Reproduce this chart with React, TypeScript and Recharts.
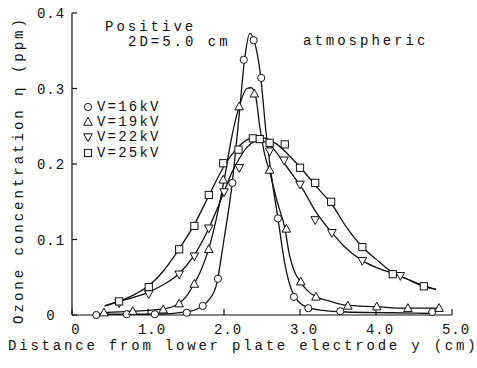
import { ComposedChart, Line, Scatter, XAxis, YAxis, Customized } from 'recharts'

const X_TICKS = [0, 1, 2, 3, 4, 5]
const Y_TICKS = [0, 0.1, 0.2, 0.3, 0.4]
const VOLTAGES = ['V=16kV', 'V=19kV', 'V=22kV', 'V=25kV']

// measured points [distance y (cm), ozone (ppm)]
const PTS_16: [number, number][] = [
  [0.32, 0.0], [0.72, 0.001], [1.09, 0.001], [1.51, 0.003], [1.72, 0.012], [1.92, 0.048],
  [2.11, 0.175], [2.26, 0.338], [2.39, 0.364], [2.49, 0.314], [2.71, 0.128], [2.92, 0.024],
  [3.11, 0.009], [3.53, 0.005], [4.74, 0.004],
]
const PTS_19: [number, number][] = [
  [0.42, 0.003], [0.8, 0.005], [1.2, 0.007], [1.41, 0.015], [1.61, 0.041], [1.8, 0.087],
  [1.99, 0.179], [2.2, 0.276], [2.4, 0.293], [2.6, 0.192], [2.82, 0.114], [3.01, 0.044],
  [3.21, 0.024], [3.63, 0.012], [4.01, 0.011], [4.42, 0.009], [4.83, 0.009],
]
const PTS_22: [number, number][] = [
  [0.62, 0.016], [1.01, 0.028], [1.41, 0.054], [1.61, 0.078], [1.8, 0.115], [2.0, 0.163],
  [2.2, 0.195], [2.6, 0.217], [2.79, 0.205], [3.0, 0.173], [3.2, 0.126], [3.42, 0.109],
  [3.82, 0.072], [4.32, 0.052],
]
const PTS_25: [number, number][] = [
  [0.62, 0.018], [1.01, 0.037], [1.41, 0.087], [1.61, 0.118], [1.8, 0.159], [1.99, 0.201],
  [2.19, 0.219], [2.38, 0.234], [2.47, 0.233], [2.6, 0.228], [2.8, 0.226], [3.0, 0.195],
  [3.2, 0.175], [3.41, 0.15], [3.82, 0.09], [4.22, 0.054], [4.63, 0.038],
]

// fitted curves
const CURVE_16: [number, number][] = [
  [0.3, 0.001], [0.7, 0.001], [1.1, 0.001], [1.5, 0.004], [1.7, 0.011], [1.8, 0.02],
  [1.9, 0.04], [2.0, 0.1], [2.1, 0.168], [2.2, 0.265], [2.27, 0.338], [2.34, 0.373],
  [2.4, 0.362], [2.48, 0.318], [2.55, 0.245], [2.63, 0.18], [2.71, 0.128], [2.8, 0.068],
  [2.9, 0.03], [3.0, 0.016], [3.1, 0.01], [3.3, 0.006], [3.6, 0.004], [4.2, 0.003], [4.75, 0.002],
]
const CURVE_19: [number, number][] = [
  [0.4, 0.003], [0.8, 0.005], [1.2, 0.008], [1.4, 0.015], [1.5, 0.024], [1.6, 0.04],
  [1.7, 0.06], [1.8, 0.088], [1.9, 0.128], [2.0, 0.178], [2.1, 0.235], [2.2, 0.276],
  [2.3, 0.3], [2.36, 0.301], [2.42, 0.288], [2.47, 0.25], [2.53, 0.215], [2.6, 0.19],
  [2.7, 0.15], [2.8, 0.115], [2.86, 0.08], [2.93, 0.057], [3.0, 0.045], [3.1, 0.032],
  [3.2, 0.025], [3.4, 0.018], [3.6, 0.013], [4.0, 0.011], [4.4, 0.009], [4.83, 0.009],
]
const CURVE_22: [number, number][] = [
  [0.43, 0.012], [0.62, 0.018], [0.8, 0.023], [1.0, 0.03], [1.2, 0.04], [1.4, 0.054],
  [1.6, 0.078], [1.8, 0.115], [1.9, 0.138], [2.0, 0.163], [2.1, 0.188], [2.2, 0.207],
  [2.3, 0.222], [2.4, 0.23], [2.48, 0.232], [2.56, 0.228], [2.65, 0.22], [2.8, 0.2],
  [2.9, 0.186], [3.04, 0.166], [3.2, 0.138], [3.42, 0.109], [3.6, 0.089], [3.82, 0.072],
  [4.0, 0.063], [4.22, 0.055], [4.4, 0.048], [4.6, 0.04], [4.79, 0.034],
]
const CURVE_25: [number, number][] = [
  [0.43, 0.012], [0.62, 0.018], [0.8, 0.026], [1.0, 0.038], [1.2, 0.058], [1.4, 0.086],
  [1.6, 0.118], [1.8, 0.158], [2.0, 0.197], [2.1, 0.212], [2.2, 0.224], [2.3, 0.232],
  [2.42, 0.236], [2.55, 0.234], [2.7, 0.226], [2.85, 0.212], [3.0, 0.196], [3.25, 0.166],
  [3.41, 0.148], [3.6, 0.118], [3.82, 0.09], [4.0, 0.074], [4.22, 0.056], [4.4, 0.048],
  [4.63, 0.038], [4.79, 0.034],
]

const FONT = '"Liberation Mono", "DejaVu Sans Mono", monospace'
const INK = '#111'

type Kind = 'circle' | 'up' | 'down' | 'square'
const KINDS: Kind[] = ['circle', 'up', 'down', 'square']

const rows = (pts: [number, number][]) => pts.map(([d, c]) => ({ d, c }))

function Marker({ kind, cx, cy }: { kind: Kind; cx: number; cy: number }) {
  const st = { fill: '#fff', stroke: INK, strokeWidth: 1 }
  if (kind === 'circle') return <circle cx={cx} cy={cy} r={3.6} {...st} />
  if (kind === 'square') return <rect x={cx - 3.6} y={cy - 3.6} width={7.2} height={7.2} {...st} />
  if (kind === 'up')
    return <polygon points={`${cx},${cy - 4.6} ${cx - 4.3},${cy + 3.2} ${cx + 4.3},${cy + 3.2}`} {...st} />
  return <polygon points={`${cx},${cy + 4.6} ${cx - 4.3},${cy - 3.2} ${cx + 4.3},${cy - 3.2}`} {...st} />
}

function YTick({ x, y, payload }: any) {
  const v = payload.value
  return (
    <text x={x} y={y} dy={5} textAnchor="middle" fontFamily={FONT} fontSize={14} letterSpacing={1} fill={INK}>
      {v === 0 ? '0' : v.toFixed(1)}
    </text>
  )
}

function XTick({ x, y, payload }: any) {
  const v = payload.value
  return (
    <text x={x + 4} y={y} dy={12} textAnchor="middle" fontFamily={FONT} fontSize={14} letterSpacing={1} fill={INK}>
      {v === 0 ? '0' : v.toFixed(1)}
    </text>
  )
}

function Annotations() {
  const t = { fontFamily: FONT, fontSize: 14, fill: INK }
  return (
    <g>
      <text x={105} y={31} letterSpacing={3} {...t}>Positive</text>
      <text x={128} y={46} letterSpacing={3} {...t}>2D=5.0 cm</text>
      <text x={303} y={45} letterSpacing={3} {...t}>atmospheric</text>
      {VOLTAGES.map((label, i) => {
        const base = [111, 126, 141, 157][i]
        return (
          <g key={label}>
            <Marker kind={KINDS[i]} cx={88} cy={base - 4} />
            <text x={97} y={base} letterSpacing={2.2} {...t}>{label}</text>
          </g>
        )
      })}
      <text x={8} y={350} letterSpacing={2.8} {...t}>Distance from lower plate electrode y (cm)</text>
      <text x={23} y={170} textAnchor="middle" letterSpacing={3} transform="rotate(-90 23 170)" {...t}>
        Ozone concentration η (ppm)
      </text>
    </g>
  )
}

const SERIES = [
  { curve: CURVE_16, pts: PTS_16, kind: 'circle' as Kind },
  { curve: CURVE_19, pts: PTS_19, kind: 'up' as Kind },
  { curve: CURVE_22, pts: PTS_22, kind: 'down' as Kind },
  { curve: CURVE_25, pts: PTS_25, kind: 'square' as Kind },
]

export default function App() {
  return (
    <div style={{ position: 'absolute', left: 0, top: 0, background: '#fff' }}>
      <ComposedChart width={477} height={368} margin={{ top: 13, right: 25, bottom: 0, left: 12 }}>
        <XAxis
          dataKey="d"
          type="number"
          domain={[0, 5]}
          ticks={X_TICKS}
          height={53}
          axisLine={{ stroke: INK, strokeWidth: 1.2 }}
          tickLine={{ stroke: INK, strokeWidth: 1.2 }}
          tickSize={-6}
          tickMargin={13}
          tick={<XTick />}
          interval={0}
        />
        <YAxis
          dataKey="c"
          type="number"
          domain={[0, 0.4]}
          ticks={Y_TICKS}
          width={60}
          axisLine={{ stroke: INK, strokeWidth: 1.2 }}
          tickLine={{ stroke: INK, strokeWidth: 1.2 }}
          tickSize={-5}
          tickMargin={26}
          tick={<YTick />}
          interval={0}
        />
        {SERIES.map((s, i) => (
          <Line
            key={`l${i}`}
            data={rows(s.curve)}
            dataKey="c"
            type="monotone"
            stroke={INK}
            strokeWidth={1.3}
            dot={false}
            activeDot={false}
            isAnimationActive={false}
          />
        ))}
        {SERIES.map((s, i) => (
          <Scatter
            key={`s${i}`}
            data={rows(s.pts)}
            dataKey="c"
            isAnimationActive={false}
            shape={(p: any) => <Marker kind={s.kind} cx={p.cx} cy={p.cy} />}
          />
        ))}
        <Customized component={<Annotations />} />
      </ComposedChart>
    </div>
  )
}
